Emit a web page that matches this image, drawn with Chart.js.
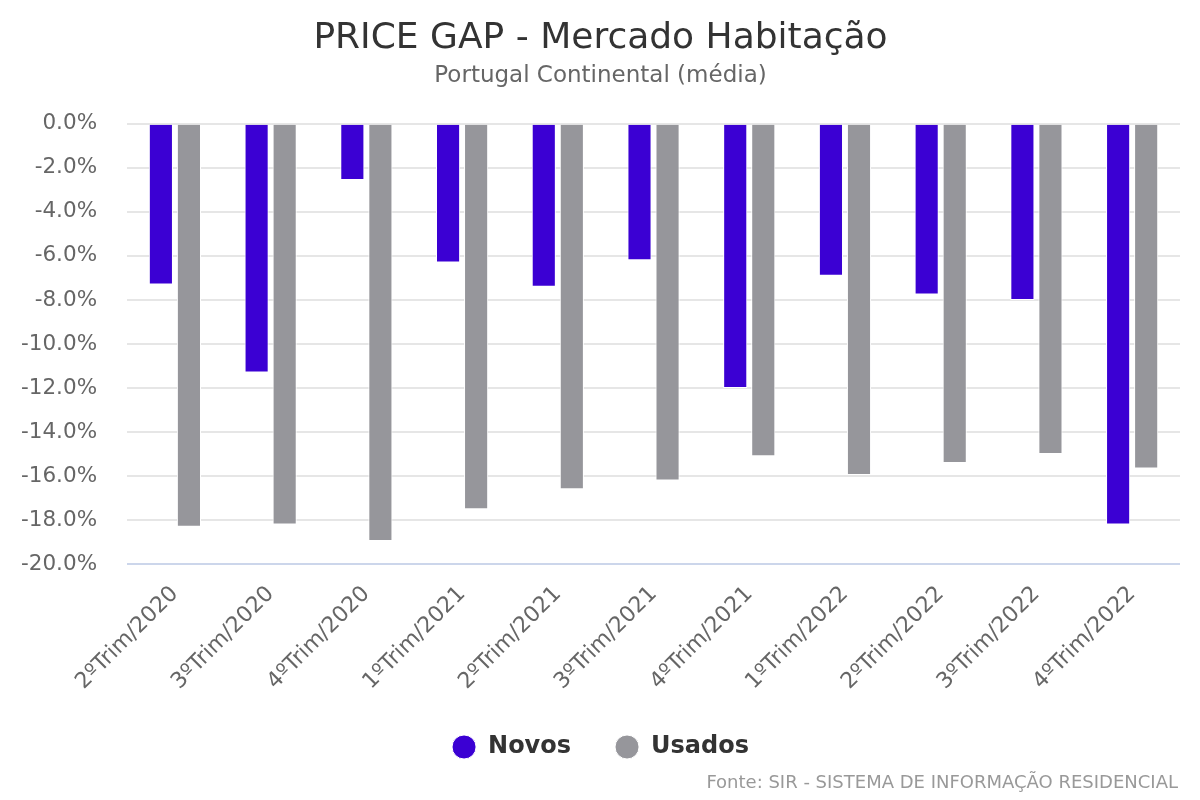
<!DOCTYPE html>
<html>
<head>
<meta charset="utf-8">
<script src="https://cdn.jsdelivr.net/npm/chart.js@4/dist/chart.umd.min.js"></script>
<style>
  html, body { margin: 0; padding: 0; background: #fff; }
  #wrap { position: relative; width: 1200px; height: 800px; }
  #fonte {
    position: absolute; right: 22px; top: 771px;
    font-family: 'DejaVu Sans', sans-serif; font-size: 18px; color: #999;
  }
</style>
</head>
<body>
<div id="wrap">
  <canvas id="myChart" width="1200" height="800"></canvas>
  <div id="fonte">Fonte: SIR - SISTEMA DE INFORMAÇÃO RESIDENCIAL</div>
</div>
<script>
(function () {
  'use strict';

  // dados (%)
  const trimestres = ['2ºTrim/2020', '3ºTrim/2020', '4ºTrim/2020', '1ºTrim/2021', '2ºTrim/2021', '3ºTrim/2021',
    '4ºTrim/2021', '1ºTrim/2022', '2ºTrim/2022', '3ºTrim/2022', '4ºTrim/2022'];
  const novos = [-7.3, -11.3, -2.55, -6.3, -7.4, -6.2, -12.0, -6.9, -7.75, -8.0, -18.2];
  const usados = [-18.3, -18.2, -18.95, -17.5, -16.6, -16.2, -15.1, -15.95, -15.4, -15.0, -15.65];

  const font = 'DejaVu Sans';
  Chart.defaults.font.family = font;

  const ctx = document.getElementById('myChart').getContext('2d');
  new Chart(ctx, {
    type: 'bar',
    data: {
      labels: trimestres,
      datasets: [
        { label: 'Novos', data: novos, backgroundColor: '#3b00d3', borderColor: '#fff', borderWidth: 1,
          barPercentage: 0.86, categoryPercentage: 0.586 },
        { label: 'Usados', data: usados, backgroundColor: '#96969b', borderColor: '#fff', borderWidth: 1,
          barPercentage: 0.86, categoryPercentage: 0.586 }
      ]
    },
    options: {
      responsive: false,
      animation: false,
      layout: { padding: { left: 21, right: 20, top: 0, bottom: 31 } },
      scales: {
        x: {
          grid: { display: false },
          border: { display: false },
          ticks: { color: '#666', font: { size: 22 }, minRotation: 45, maxRotation: 45, padding: 9 },
          // chart.js reserva o padding duas vezes
          afterFit: s => { s.height -= 13; }
        },
        y: {
          min: -20, max: 0,
          grid: { color: c => c.tick && c.tick.value === -20 ? '#ccd6eb' : '#e6e6e6', lineWidth: 2, drawTicks: false },
          border: { display: false },
          ticks: { stepSize: 2, color: '#666', font: { size: 21.5 }, padding: 30,
            callback: v => v.toFixed(1) + '%' },
          afterFit: s => { s.width -= 30; }
        }
      },
      plugins: {
        title: { display: true, text: 'PRICE GAP - Mercado Habitação', color: '#333',
          font: { size: 36, weight: 'normal' }, padding: { top: 17, bottom: 2 } },
        subtitle: { display: true, text: 'Portugal Continental (média)', color: '#666',
          font: { size: 23 }, padding: { bottom: 34 } },
        legend: {
          position: 'bottom',
          labels: { usePointStyle: true, pointStyle: 'circle', boxWidth: 24, boxHeight: 17,
            color: '#333', font: { size: 24, weight: 'bold' }, padding: 44 }
        },
        tooltip: { enabled: false }
      }
    }
  });
})();
</script>
</body>
</html>
